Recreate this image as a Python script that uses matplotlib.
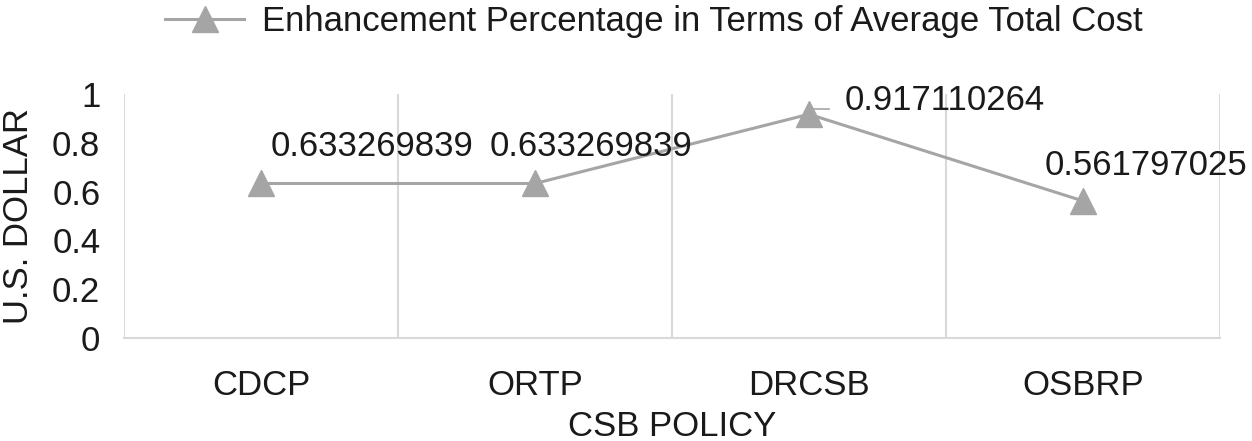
import matplotlib.pyplot as plt

plt.rcParams['font.family'] = ['Liberation Sans', 'DejaVu Sans']

policies = ['CDCP', 'ORTP', 'DRCSB', 'OSBRP']
enhancement = [0.633269839, 0.633269839, 0.917110264, 0.561797025]
label_offsets = [(10, 37), (-45, 37), (36, 14), (-38, 35)]

gray = '#a5a5a5'
txt = '#1a1a1a'

fig = plt.figure(figsize=(12.52, 4.41), dpi=100)
ax = fig.add_axes([0.099, 0.2336, 0.8754, 0.5532])

x = range(len(policies))
ax.plot(x, enhancement, color=gray, lw=2.2, marker='^', markersize=19,
        label='Enhancement Percentage in Terms of Average Total Cost', clip_on=False)

for i, v in enumerate(enhancement):
    dx, dy = label_offsets[i]
    ax.annotate(f'{v:.9f}', (i, v), xytext=(dx, dy), textcoords='offset pixels',
                ha='left', va='center', fontsize=25, color=txt)

# little leader line next to the DRCSB label
ax.plot([2.01, 2.075], [0.94, 0.94], color=gray, lw=1.2, clip_on=False)

ax.set_xlim(-0.5, len(policies) - 0.5)
ax.set_ylim(0, 1)
ax.set_yticks([0, 0.2, 0.4, 0.6, 0.8, 1])
ax.set_yticklabels(['0', '0.2', '0.4', '0.6', '0.8', '1'])
ax.set_xticks(list(x))
ax.set_xticklabels(policies)
ax.set_xticks([i - 0.5 for i in range(len(policies) + 1)], minor=True)
ax.grid(which='minor', axis='x', color='#d9d9d9', lw=1.5)
ax.grid(which='major', visible=False)

for s in ['top', 'right', 'left']:
    ax.spines[s].set_visible(False)
ax.spines['bottom'].set_color('#d9d9d9')
ax.spines['bottom'].set_linewidth(1.5)
ax.tick_params(which='both', length=0)
ax.tick_params(axis='x', labelsize=25, pad=22, colors=txt)
ax.tick_params(axis='y', labelsize=25, pad=17, colors=txt)

ax.set_xlabel('CSB POLICY', fontsize=25, color=txt, labelpad=6)
ax.set_ylabel('U.S. DOLLAR', fontsize=25, color=txt, labelpad=12)

fig.legend(loc='upper center', bbox_to_anchor=(0.522, 1.06), frameon=False,
           fontsize=25, handlelength=2.3, handletextpad=0.5, labelcolor=txt)

fig.savefig('out.png', dpi=100)
